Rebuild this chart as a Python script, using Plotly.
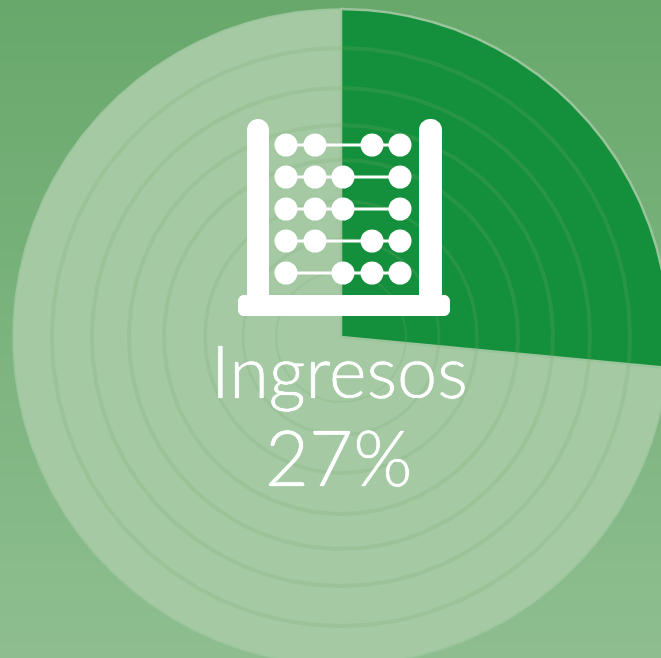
import numpy as np
import plotly.graph_objects as go

# --- data ---
categories = ["Ingresos", "Resto"]
shares = [26.5, 73.5]
label_share = "27%"
ring_radii = [289, 249, 212, 177, 136, 98, 65]
ring_widths = [4, 4, 4, 4, 3.5, 3, 2]
bead_columns = [286, 315, 343, 372, 400]
bead_rows = [145, 177, 209, 241, 273]
bead_slots = [[0, 1, 3, 4], [0, 1, 2, 4], [0, 1, 2, 4], [0, 1, 3, 4], [0, 2, 3, 4]]

CX, CY, R = 341, 337, 328
W, H = 661, 658


def sector(start, end, r=R):
    t = np.radians(np.linspace(start, end, 360))
    return (np.r_[CX, CX + r * np.sin(t), CX], np.r_[CY, CY - r * np.cos(t), CY])


def round_rect(x0, y0, x1, y1, r):
    k = 0.45 * r
    return (f"M{x0+r},{y0} L{x1-r},{y0} C{x1-k},{y0} {x1},{y0+k} {x1},{y0+r} "
            f"L{x1},{y1-r} C{x1},{y1-k} {x1-k},{y1} {x1-r},{y1} "
            f"L{x0+r},{y1} C{x0+k},{y1} {x0},{y1-k} {x0},{y1-r} "
            f"L{x0},{y0+r} C{x0},{y0+k} {x0+k},{y0} {x0+r},{y0} Z")


fig = go.Figure()

# background gradient
fig.add_trace(go.Heatmap(x=[0, W], y=[0, H], z=[[0, 0], [1, 1]], zsmooth="best", showscale=False,
                         colorscale=[[0, "#68a86b"], [1, "#8ebe90"]], hoverinfo="skip"))

a = shares[0] / sum(shares) * 360
# remaining slice
x, y = sector(a, 360)
fig.add_trace(go.Scatter(x=x, y=y, mode="lines", fill="toself", fillcolor="#a4c9a3",
                         line=dict(color="#9cc59d", width=1.5), name=categories[1], hoverinfo="skip"))
# main slice
x, y = sector(0, a)
fig.add_trace(go.Scatter(x=x, y=y, mode="lines", fill="toself", fillcolor="#14903c",
                         line=dict(color="#9ac49b", width=2.5), name=categories[0], hoverinfo="skip"))
# inner rings
for r, w in zip(ring_radii, ring_widths):
    x, y = sector(0, 360, r)
    fig.add_trace(go.Scatter(x=x[1:-1], y=y[1:-1], mode="lines", hoverinfo="skip",
                             line=dict(color="rgba(120,170,105,0.19)", width=w)))
# abacus wires and beads
for ry, slots in zip(bead_rows, bead_slots):
    fig.add_trace(go.Scatter(x=[bead_columns[0], bead_columns[-1]], y=[ry, ry], mode="lines",
                             line=dict(color="white", width=3), hoverinfo="skip"))
    fig.add_trace(go.Scatter(x=[bead_columns[s] for s in slots], y=[ry] * len(slots), mode="markers",
                             marker=dict(color="white", size=23, line=dict(width=0)), hoverinfo="skip"))

shapes = [
    dict(type="path", path=round_rect(247, 119, 269, 312, 11), fillcolor="white", line_width=0, layer="above"),
    dict(type="path", path=round_rect(419, 119, 442, 312, 11), fillcolor="white", line_width=0, layer="above"),
    dict(type="path", path=round_rect(238, 295, 450, 316, 6), fillcolor="white", line_width=0, layer="above"),
]

TEXT_SHADOW = "0 0 0.8px white, 0 0 0.8px white"
fig.update_layout(
    width=W, height=H, margin=dict(l=0, r=0, t=0, b=0), showlegend=False,
    paper_bgcolor="#7ab37c", plot_bgcolor="#7ab37c", shapes=shapes,
    xaxis=dict(range=[0, W], visible=False, fixedrange=True),
    yaxis=dict(range=[H, 0], visible=False, fixedrange=True),
    annotations=[
        dict(x=339, y=370, text=categories[0], showarrow=False, xanchor="center", yanchor="middle",
             font=dict(family="Lato", size=72, color="white", weight=300, shadow=TEXT_SHADOW)),
        dict(x=338, y=456, text=label_share, showarrow=False, xanchor="center", yanchor="middle",
             font=dict(family="Lato", size=76, color="white", weight=300, shadow=TEXT_SHADOW)),
    ],
)
fig.write_html("out.html", config=dict(displayModeBar=False),
               post_script="document.body.style.margin='0';document.body.style.overflow='hidden';")
